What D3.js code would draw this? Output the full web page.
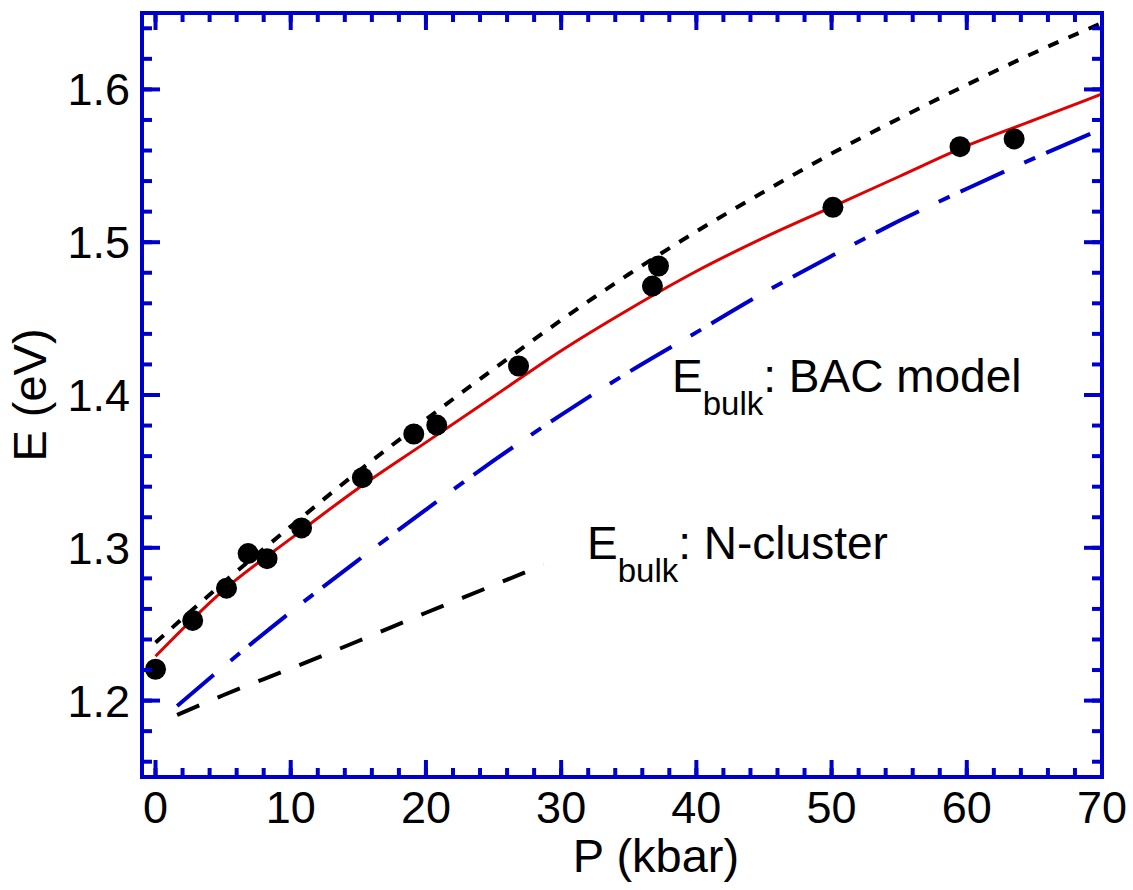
<!DOCTYPE html>
<html>
  <head>
    <title>E vs P</title>
    <script src="https://cdn.jsdelivr.net/npm/d3@7/dist/d3.min.js" charset="utf-8"></script>
<style>
body { margin: 0; background: #fff; }
text { font-family: "Liberation Sans", Arial, sans-serif; fill: #000; }
.frame { fill: none; stroke: #0000cc; stroke-width: 4; }
.tick { stroke: #0000cc; stroke-width: 4; }
</style>
  </head>
  <body>
    <svg></svg>
    <script>
      var width = 1133;
      var height = 890;

      // measured points
      var dataP = [0, 2.75, 5.25, 6.85, 8.25, 10.8, 15.3, 19.1, 20.8, 26.85, 36.75, 37.2, 50.1, 59.5, 63.5];
      var dataE = [1.2205, 1.2525, 1.2736, 1.2962, 1.2929, 1.313, 1.3459, 1.3745, 1.3803, 1.419, 1.4713, 1.4844, 1.5228, 1.5625, 1.5676];

      // red solid fit (read every 5 kbar)
      var fitP = [0, 5, 10, 15, 20, 25, 30, 35, 40, 45, 50, 55, 60, 65, 70];
      var fitE = [1.229, 1.272, 1.306, 1.339, 1.369, 1.399, 1.429, 1.456, 1.481, 1.503, 1.523, 1.543, 1.563, 1.580, 1.597];

      // black short dashed
      var upperP = [0, 5, 10, 15, 20, 25, 30, 35, 40, 45, 50, 55, 60, 65, 70];
      var upperE = [1.238, 1.277, 1.314, 1.350, 1.384, 1.417, 1.449, 1.479, 1.507, 1.533, 1.558, 1.581, 1.603, 1.624, 1.6435];

      // blue dash-dot: E_bulk BAC model
      var bacP = [1.6, 5, 10, 15, 20, 25, 30, 35, 40, 45, 50, 55, 60, 65, 69.5];
      var bacE = [1.1965, 1.222, 1.258, 1.292, 1.325, 1.357, 1.387, 1.415, 1.441, 1.467, 1.491, 1.514, 1.535, 1.555, 1.5723];

      // black long dashed: E_bulk N-cluster
      var clusterP = [1.6, 5, 10, 15, 20, 25, 28.7];
      var clusterE = [1.1906, 1.2035, 1.221, 1.239, 1.2575, 1.2755, 1.289];

      var xMajor = d3.range(0, 71, 10);
      var xMinor = d3.range(0, 71, 2);
      var yMajor = [1.2, 1.3, 1.4, 1.5, 1.6];
      var yMinor = d3.range(1.16, 1.6501, 0.02);

      var pLeft = 142, pRight = 1102, pTop = 13, pBottom = 777;

      var x = d3.scaleLinear().domain([-1, 70]).range([pLeft, pRight]);
      var y = d3.scaleLinear().domain([1.15, 1.65]).range([pBottom, pTop]);

      var svg = d3.select("svg").attr("width", width).attr("height", height);

      svg.append("clipPath").attr("id", "clip")
        .append("rect").attr("x", pLeft).attr("y", pTop)
        .attr("width", pRight - pLeft).attr("height", pBottom - pTop);

      function pairs(px, py) {
        return px.map(function(d, i) { return [d, py[i]]; });
      }
      var line = d3.line()
        .x(function(d) { return x(d[0]); })
        .y(function(d) { return y(d[1]); })
        .curve(d3.curveMonotoneX);

      var g = svg.append("g").attr("clip-path", "url(#clip)");

      g.append("path").attr("d", line(pairs(clusterP, clusterE)))
        .attr("fill", "none").attr("stroke", "#000").attr("stroke-width", 4)
        .attr("stroke-dasharray", "24,20");
      g.append("path").attr("d", line(pairs(bacP, bacE)))
        .attr("fill", "none").attr("stroke", "#0000cc").attr("stroke-width", 4)
        .attr("stroke-dasharray", "48,22,12,12");
      g.append("path").attr("d", line(pairs(upperP, upperE)))
        .attr("fill", "none").attr("stroke", "#000").attr("stroke-width", 4)
        .attr("stroke-dasharray", "11,11");
      g.append("path").attr("d", line(pairs(fitP, fitE)))
        .attr("fill", "none").attr("stroke", "#e00000").attr("stroke-width", 3);

      g.selectAll("circle").data(pairs(dataP, dataE))
        .enter()
        .append("circle")
          .attr("cx", function(d) { return x(d[0]); })
          .attr("cy", function(d) { return y(d[1]); })
          .attr("r", 10.5)
          .attr("fill", "#000");

      // ticks on all four sides, pointing inward
      function ticksX(vals, len) {
        vals.forEach(function(v) {
          svg.append("line").attr("class", "tick")
            .attr("x1", x(v)).attr("x2", x(v)).attr("y1", pBottom).attr("y2", pBottom - len);
          svg.append("line").attr("class", "tick")
            .attr("x1", x(v)).attr("x2", x(v)).attr("y1", pTop).attr("y2", pTop + len);
        });
      }
      function ticksY(vals, len) {
        vals.forEach(function(v) {
          svg.append("line").attr("class", "tick")
            .attr("y1", y(v)).attr("y2", y(v)).attr("x1", pLeft).attr("x2", pLeft + len);
          svg.append("line").attr("class", "tick")
            .attr("y1", y(v)).attr("y2", y(v)).attr("x1", pRight).attr("x2", pRight - len);
        });
      }
      ticksX(xMinor, 9);
      ticksX(xMajor, 17);
      ticksY(yMinor, 10);
      ticksY(yMajor, 18);

      svg.append("rect").attr("class", "frame")
        .attr("x", pLeft).attr("y", pTop)
        .attr("width", pRight - pLeft).attr("height", pBottom - pTop);

      svg.selectAll(".xlab").data(xMajor).enter()
        .append("text").attr("class", "xlab")
          .attr("x", function(d) { return x(d); })
          .attr("y", 823)
          .attr("text-anchor", "middle")
          .style("font-size", "45px")
          .text(function(d) { return d; });

      svg.selectAll(".ylab").data(yMajor).enter()
        .append("text").attr("class", "ylab")
          .attr("x", 130)
          .attr("y", function(d) { return y(d) + 16; })
          .attr("text-anchor", "end")
          .style("font-size", "45px")
          .text(function(d) { return d.toFixed(1); });

      svg.append("text")
        .attr("x", 656).attr("y", 872)
        .attr("text-anchor", "middle")
        .style("font-size", "47px")
        .text("P (kbar)");

      svg.append("text")
        .attr("transform", "translate(46," + (y(1.4)) + ") rotate(-90)")
        .attr("text-anchor", "middle")
        .style("font-size", "47px")
        .text("E (eV)");

      function label(lx, ly, rest) {
        var t = svg.append("text").attr("x", lx).attr("y", ly).style("font-size", "46px");
        t.append("tspan").text("E");
        t.append("tspan").attr("dy", 23).style("font-size", "33px").text("bulk");
        t.append("tspan").attr("dy", -23).text(rest);
      }
      label(672, 392, ": BAC model");
      label(587, 559, ": N-cluster");
    </script>
  </body>
</html>
